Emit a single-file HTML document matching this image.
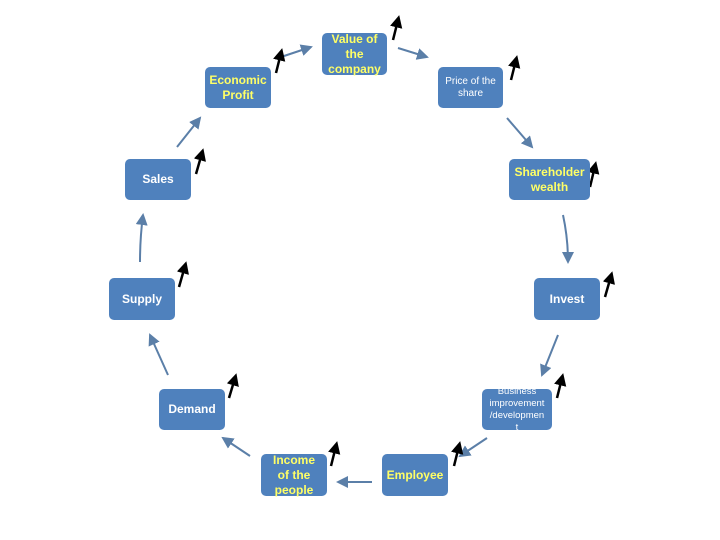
<!DOCTYPE html>
<html><head><style>
body{margin:0;width:720px;height:540px;background:#fff;position:relative;overflow:hidden;font-family:"Liberation Sans",sans-serif}
.b{position:absolute;background:#4f81bd;border-radius:5px;display:flex;align-items:center;justify-content:center;text-align:center;font-weight:bold;font-size:12px;line-height:15px;color:#fff}
.y{color:#ffff66}
svg{position:absolute;left:0;top:0}
</style></head><body>
<svg width="720" height="540">
<defs>
<marker id="a" markerWidth="6" markerHeight="6" refX="5" refY="3" orient="auto"><path d="M0,0 L6,3 L0,6z" fill="#5b7fa8"/></marker>
<marker id="k" markerWidth="5" markerHeight="5" refX="3" refY="2.5" orient="auto"><path d="M0,0 L5,2.5 L0,5z" fill="#000"/></marker>
</defs>
<g stroke="#5b7fa8" stroke-width="2" fill="none" marker-end="url(#a)">
<path d="M281,57 L311,47"/><path d="M398,48 L427,57"/><path d="M507,118 L532,147"/>
<path d="M563,215 Q568,238 568,262"/><path d="M558,335 L542,375"/><path d="M487,438 L460,456"/>
<path d="M372,482 L338,482"/><path d="M250,456 L223,438"/><path d="M168,375 L150,335"/>
<path d="M140,262 Q140,238 143,215"/><path d="M177,147 L200,118"/>
</g>
<g stroke="#000" stroke-width="2.5" marker-end="url(#k)">
<path d="M276,73 L281,53"/><path d="M393,40 L398,20"/><path d="M511,80 L516,60"/>
<path d="M196,174 L202,153"/><path d="M590,187 L595,166"/><path d="M179,287 L185,266"/>
<path d="M605,297 L611,276"/><path d="M229,398 L235,378"/><path d="M557,398 L562,378"/>
<path d="M331,466 L336,446"/><path d="M454,466 L459,446"/>
</g>
</svg>
<div class="b y" style="left:322px;top:33px;width:65px;height:42px">Value of<br>the<br>company</div>
<div class="b y" style="left:205px;top:67px;width:66px;height:41px">Economic<br>Profit</div>
<div class="b" style="left:438px;top:67px;width:65px;height:41px;font-weight:normal;font-size:10px;line-height:12px">Price of the<br>share</div>
<div class="b" style="left:125px;top:159px;width:66px;height:41px">Sales</div>
<div class="b y" style="left:509px;top:159px;width:81px;height:41px">Shareholder<br>wealth</div>
<div class="b" style="left:109px;top:278px;width:66px;height:42px">Supply</div>
<div class="b" style="left:534px;top:278px;width:66px;height:42px">Invest</div>
<div class="b" style="left:159px;top:389px;width:66px;height:41px">Demand</div>
<div class="b" style="left:482px;top:389px;width:70px;height:41px;font-weight:normal;font-size:9.5px;line-height:12px;overflow:hidden">Business<br>improvement<br>/developmen<br>t</div>
<div class="b y" style="left:261px;top:454px;width:66px;height:42px">Income<br>of the<br>people</div>
<div class="b y" style="left:382px;top:454px;width:66px;height:42px">Employee</div>
</body></html>
